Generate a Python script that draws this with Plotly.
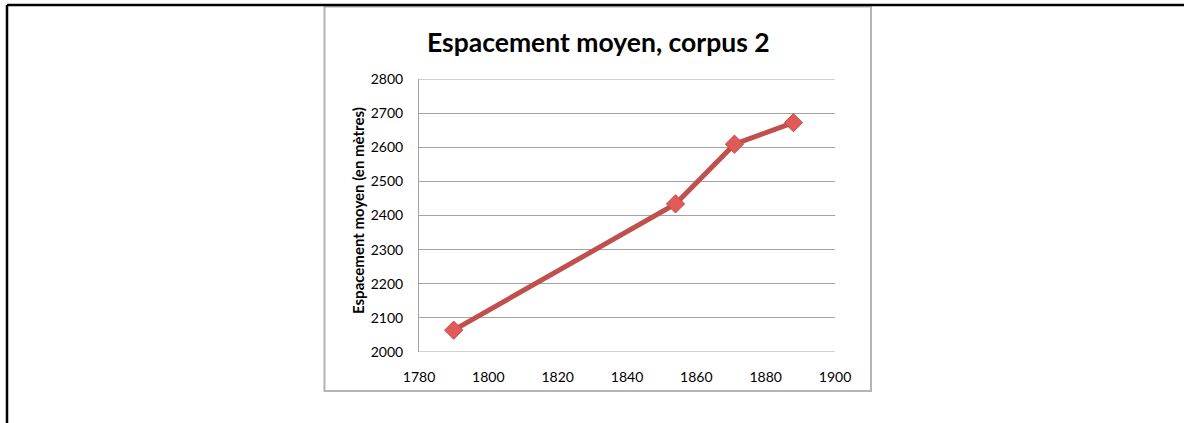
import plotly.graph_objects as go

# Mean spacing by year, corpus 2
years = [1790, 1854, 1871, 1888]
spacing = [2064, 2434, 2609, 2672]

x_ticks = [1780, 1800, 1820, 1840, 1860, 1880, 1900]
y_ticks = [2000, 2100, 2200, 2300, 2400, 2500, 2600, 2700, 2800]

W, H = 1184, 423
L, R, T, B = 419, 349, 79, 71
PW, PH = W - L - R, H - T - B


def px(x):
    return (x - L) / PW


def py(y):
    return (H - B - y) / PH


FONT = "Lato, 'Open Sans', sans-serif"
GRID = "#a3a3a3"

fig = go.Figure()
fig.add_trace(go.Scatter(
    x=years, y=spacing, mode="lines+markers",
    line=dict(color="#C0504D", width=5),
    marker=dict(symbol="diamond", size=14, color="#E05A57",
                line=dict(color="#C54B48", width=1)),
    showlegend=False, cliponaxis=False,
))

shapes = [
    # outer frame (top and left edges)
    dict(type="line", xref="paper", yref="paper", x0=px(7), x1=px(W + 10),
         y0=py(5), y1=py(5), line=dict(color="black", width=2.5)),
    dict(type="line", xref="paper", yref="paper", x0=px(7), x1=px(7),
         y0=py(5), y1=py(H + 10), line=dict(color="black", width=2.5)),
    # chart box
    dict(type="rect", xref="paper", yref="paper", x0=px(324.5), x1=px(871),
         y0=py(6.5), y1=py(391), line=dict(color="#b4b4b4", width=2),
         layer="below"),
]
# gridlines at the bottom and top of the value range
for v in (y_ticks[0], y_ticks[-1]):
    shapes.append(dict(type="line", xref="paper", yref="y", x0=0, x1=1,
                       y0=v, y1=v, line=dict(color=GRID, width=1),
                       layer="below"))

fig.update_layout(
    width=W, height=H,
    margin=dict(l=L, r=R, t=T, b=B),
    paper_bgcolor="white", plot_bgcolor="white",
    shapes=shapes,
    annotations=[
        dict(text="<b>Espacement moyen, corpus 2</b>", xref="paper", yref="paper",
             x=px(598), y=py(42), xanchor="center", yanchor="middle",
             showarrow=False, font=dict(family=FONT, size=26.5, color="black")),
        dict(text="<b>Espacement moyen (en mètres)</b>", xref="paper", yref="paper",
             x=px(358), y=py(211), xanchor="center", yanchor="middle",
             textangle=-90, showarrow=False,
             font=dict(family=FONT, size=15, color="black")),
    ],
    xaxis=dict(range=[1780, 1900], tickvals=x_ticks, showgrid=False,
               zeroline=False, showline=False,
               ticks="outside", ticklen=12, tickcolor="rgba(0,0,0,0)",
               tickfont=dict(family=FONT, size=14, color="black")),
    yaxis=dict(range=[2000, 2800], tickvals=y_ticks, showgrid=True,
               gridcolor=GRID, gridwidth=1, zeroline=False,
               showline=True, linecolor=GRID, linewidth=1,
               ticks="outside", ticklen=12, tickcolor="rgba(0,0,0,0)",
               tickfont=dict(family=FONT, size=14, color="black")),
)

fig.write_html("out.html")
